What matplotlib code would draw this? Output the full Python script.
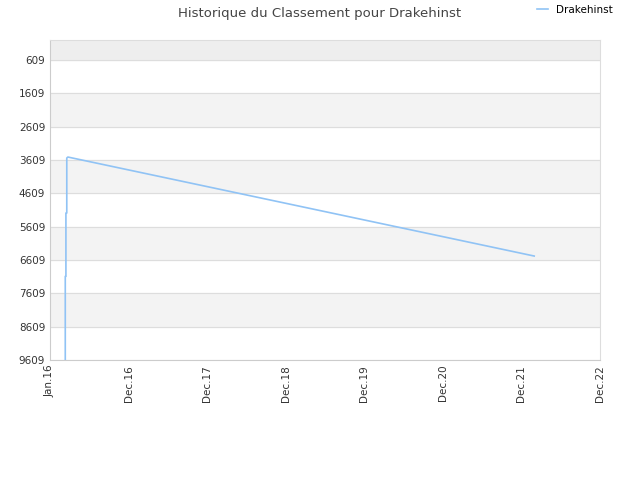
import matplotlib
matplotlib.use("Agg")
import matplotlib.pyplot as plt
import pandas as pd

dates = pd.to_datetime(["2016-03-12", "2016-03-12", "2016-03-15", "2016-03-15", "2016-03-19",
                        "2016-03-19", "2016-03-24", "2022-03-01"])
ranks = [9609, 7100, 7100, 5200, 5200, 3550, 3520, 6490]
tick_dates = pd.to_datetime(["2016-01-01", "2017-01-01", "2018-01-01", "2019-01-01",
                             "2020-01-01", "2021-01-01", "2022-01-01", "2023-01-01"])
tick_labels = ["Jan.16", "Dec.16", "Dec.17", "Dec.18", "Dec.19", "Dec.20", "Dec.21", "Dec.22"]
y_ticks = [609, 1609, 2609, 3609, 4609, 5609, 6609, 7609, 8609, 9609]

fig = plt.figure(figsize=(6.4, 4.8), dpi=100)
ax = fig.add_axes([50 / 640, 120 / 480, 550 / 640, 320 / 480])

ax.axhspan(9, 609, color="#eeeeee", zorder=0)
for i in range(len(y_ticks) - 1):
    if i % 2 == 1:
        ax.axhspan(y_ticks[i], y_ticks[i + 1], color="#f3f3f3", zorder=0)
for y in y_ticks:
    ax.axhline(y, color="#dddddd", linewidth=0.8, zorder=1)

line, = ax.plot(dates, ranks, color="#90c3f5", linewidth=1.2, zorder=3, label="Drakehinst")

ax.set_xlim(tick_dates[0], tick_dates[-1])
ax.set_ylim(9609, 9)
ax.set_yticks(y_ticks)
ax.set_xticks(tick_dates)
ax.set_xticklabels(tick_labels, rotation=90)
ax.tick_params(labelsize=7.5, colors="#333333", length=0)
for s in ["top", "right"]:
    ax.spines[s].set_color("#dddddd")
for s in ["left", "bottom"]:
    ax.spines[s].set_color("#cccccc")

fig.text(0.5, 0.985, "Historique du Classement pour Drakehinst", ha="center", va="top",
         fontsize=9.5, color="#444444")
ax.legend(handles=[line], loc="lower right", bbox_to_anchor=(1.04, 1.05), frameon=False,
          fontsize=7.5, handlelength=1)

fig.savefig("out.png")
